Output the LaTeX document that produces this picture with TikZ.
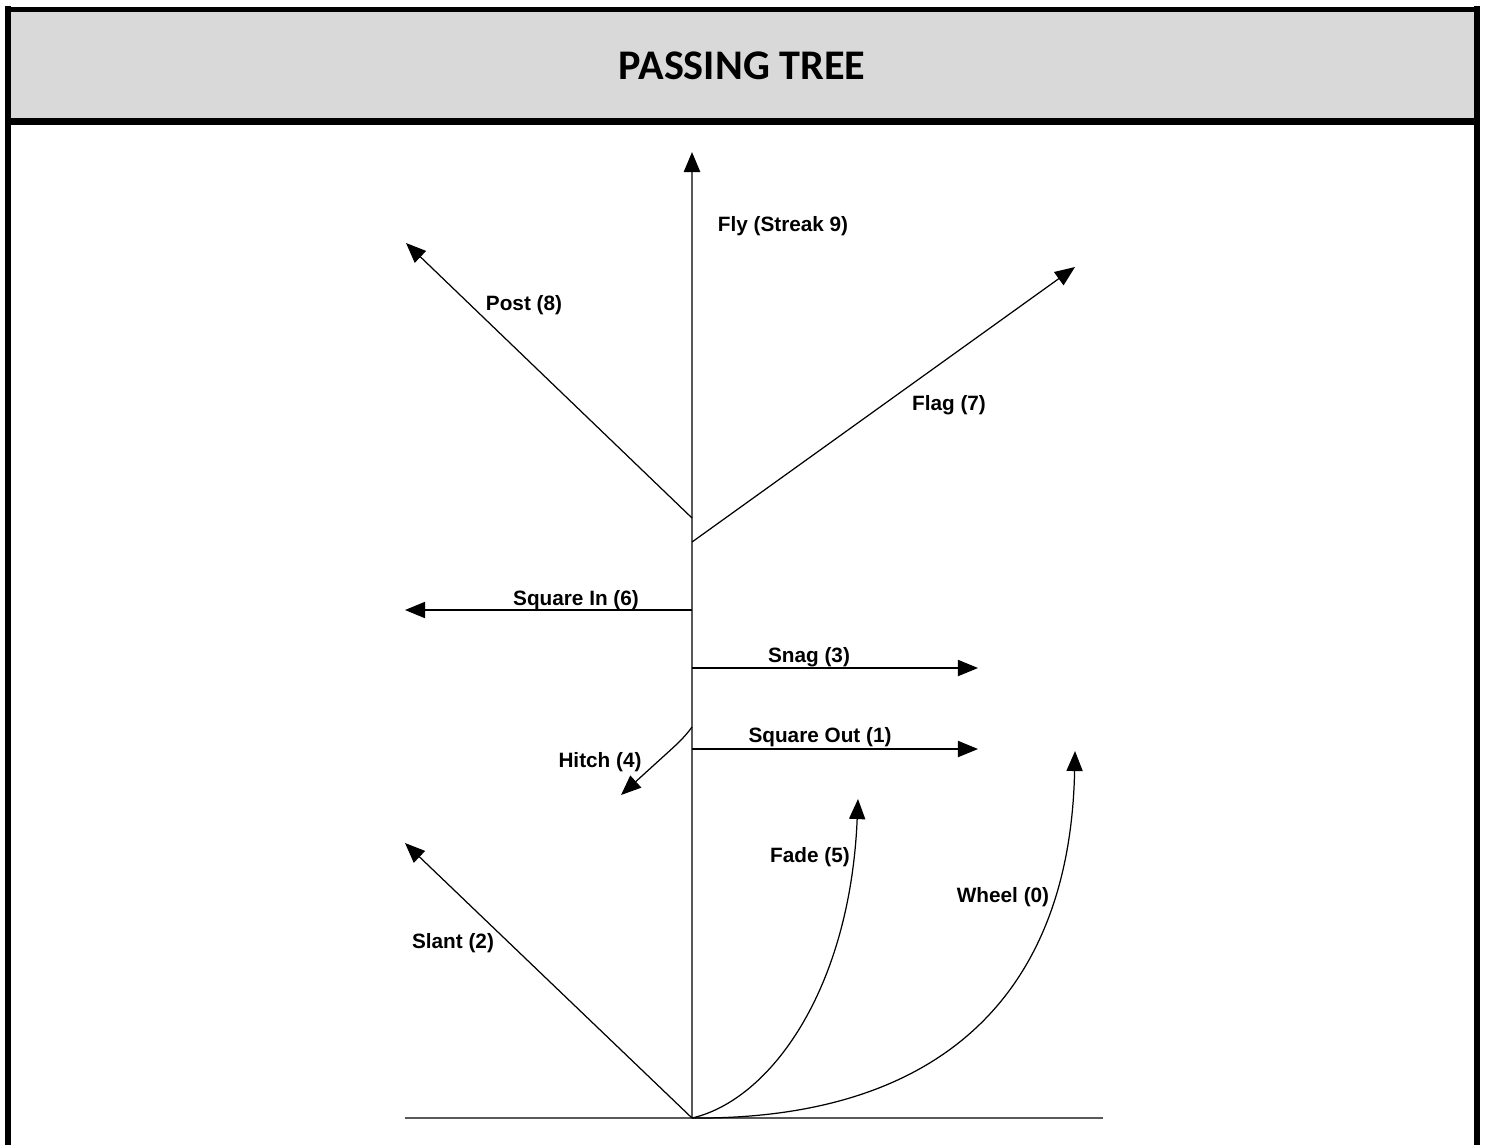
\documentclass[tikz,border=0pt]{standalone}
\usepackage{fontspec}
\setmainfont{Liberation Sans}
\newfontfamily\titlefont{Carlito}
\usetikzlibrary{arrows.meta}
\definecolor{headgray}{HTML}{D9D9D9}
\begin{document}
\begin{tikzpicture}[x=0.01cm,y=-0.01cm,
  tip/.style={-{Triangle[length=5.7pt,width=4.6pt,color=black]}},
  route/.style={draw=black,line width=0.35pt,tip},
  trunk/.style={draw=black!65,line width=0.6pt},
  lbl/.style={font=\fontsize{5.9}{7}\selectfont\bfseries,inner sep=0pt},
  rule/.style={line width=1.7pt,draw=black}]
\useasboundingbox (0,0) rectangle (1486,1145);

% header band and frame
\fill[headgray] (11,12) rectangle (1474,118);
\node[font=\titlefont\fontsize{12}{14}\selectfont\bfseries] (title) at (742,66) {PASSING TREE};
\draw[rule] (8,6) -- (8,1145);
\draw[rule] (1477,6) -- (1477,1145);
\draw[rule] (8,9.5) -- (1477,9.5);
\draw[line width=2pt] (8,121.5) -- (1477,121.5);

% ground line
\coordinate (gl) at (405,1118);
\coordinate (gr) at (1103,1118);
\draw[trunk,line width=0.5pt] (gl) -- (gr);

% stem points
\coordinate (root) at (692,1118);
\coordinate (postb) at (692,518);
\coordinate (flagb) at (692,542);
\coordinate (sqinb) at (692,610);
\coordinate (snagb) at (692,668);
\coordinate (hitchb) at (692,727);
\coordinate (sqoutb) at (692,749);

% route ends
\coordinate (flyt) at (692,152);
\coordinate (postt) at (406,243);
\coordinate (flagt) at (1075,267);
\coordinate (sqint) at (405,610);
\coordinate (snagt) at (978,668);
\coordinate (sqoutt) at (978,749);
\coordinate (hitcht) at (621,795);
\coordinate (slantt) at (405,843);
\coordinate (fadet) at (858,799);
\coordinate (wheelt) at (1075,751);

% the stem (fly)
\draw[trunk,tip] (root) -- (flyt);

% branches
\draw[route] (postb) -- (postt);
\draw[route] (flagb) -- (flagt);
\draw[route] (sqinb) -- (sqint);
\draw[route] (snagb) -- (snagt);
\draw[route] (sqoutb) -- (sqoutt);
\draw[route] (hitchb) .. controls (684,738) and (676,745) .. (665,755) -- (hitcht);
\draw[route] (root) -- (slantt);
\draw[route] (root) .. controls (770,1100) and (850,990) .. (fadet);
\draw[route] (root) .. controls (940,1120) and (1070,995) .. (wheelt);

% labels
\node[lbl] (lfly) at (783,226) {Fly (Streak 9)};
\node[lbl] (lpost) at (524,305) {Post (8)};
\node[lbl] (lflag) at (949,405) {Flag (7)};
\node[lbl] (lsqin) at (576,600) {Square In (6)};
\node[lbl] (lsnag) at (809,657) {Snag (3)};
\node[lbl] (lsqout) at (820,737) {Square Out (1)};
\node[lbl] (lhitch) at (600,762) {Hitch (4)};
\node[lbl] (lfade) at (810,857) {Fade (5)};
\node[lbl] (lwheel) at (1003,897) {Wheel (0)};
\node[lbl] (lslant) at (453,943) {Slant (2)};
\end{tikzpicture}
\end{document}
